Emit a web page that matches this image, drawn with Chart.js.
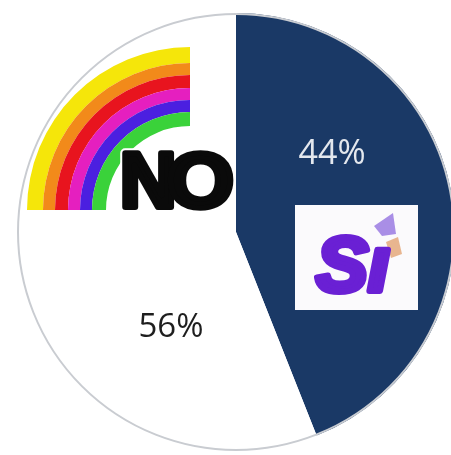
<!DOCTYPE html>
<html>
<head>
<meta charset="utf-8">
<script src="https://cdn.jsdelivr.net/npm/chart.js@4.4.0/dist/chart.umd.min.js"></script>
<style>
  html, body { margin: 0; padding: 0; background: #ffffff; }
  #wrap { width: 451px; height: 455px; position: relative; overflow: hidden; }
  .pre { position: absolute; left: -1000px; top: 0; }
</style>
</head>
<body>
<span class="pre" style="font: bold 20px 'Liberation Sans'">NO</span>
<span class="pre" style="font: italic bold 20px 'Liberation Sans'">Sí</span>
<span class="pre" style="font: 20px 'Open Sans'">44%</span>
<div id="wrap"><canvas id="c" width="470" height="455"></canvas></div>
<script>
// ---- data ----
const categories = ['Sí', 'NO'];
const values = [44, 56];
const valueLabels = ['44%', '56%'];
const sliceColors = ['#1a3966', '#ffffff'];
const rainbowColors = ['#f5e60a', '#f28a1a', '#e8141e', '#e51fbf', '#4b1fe0', '#3ad23a'];

const decoPlugin = {
  id: 'deco',
  afterDatasetsDraw(chart) {
    const arc = chart.getDatasetMeta(0).data[0];
    const cx = arc.x, cy = arc.y, R = arc.outerRadius;
    const X = dx => cx + dx, Y = dy => cy + dy;
    const ctx = chart.ctx;
    ctx.save();

    // circle outline
    ctx.beginPath();
    ctx.arc(cx, cy, R - 1, 0, Math.PI * 2);
    ctx.strokeStyle = '#c9ccd1';
    ctx.lineWidth = 2;
    ctx.stroke();

    // value labels
    ctx.textAlign = 'center';
    ctx.textBaseline = 'alphabetic';
    ctx.font = '34px "Open Sans", sans-serif';
    ctx.fillStyle = '#e4e8ee';
    ctx.fillText(valueLabels[0], X(96), Y(-68));
    ctx.font = '33px "Open Sans", sans-serif';
    ctx.fillStyle = '#1e1e1e';
    ctx.fillText(valueLabels[1], X(-65), Y(105));

    // rainbow of the NO logo
    const rcx = X(-46), rcy = Y(-22);
    const radii = [163, 147, 135, 122, 110, 98, 84];
    for (let i = 0; i < rainbowColors.length; i++) {
      ctx.beginPath();
      ctx.arc(rcx, rcy, radii[i], Math.PI, Math.PI * 1.5);
      ctx.arc(rcx, rcy, radii[i + 1], Math.PI * 1.5, Math.PI, true);
      ctx.closePath();
      ctx.fillStyle = rainbowColors[i];
      ctx.fill();
    }

    // NO text (heavy: white halo, then fill + same-colour stroke)
    ctx.lineJoin = 'round';
    ctx.textAlign = 'left';
    ctx.font = 'bold 78px "Liberation Sans", sans-serif';
    const nx = X(-116), by = Y(-25);
    const nw = ctx.measureText('N').width;
    const drawNO = (color, lw) => {
      ctx.fillStyle = color; ctx.strokeStyle = color; ctx.lineWidth = lw;
      ctx.fillText('N', nx, by);
      ctx.strokeText('N', nx, by);
      ctx.save();
      ctx.translate(nx + nw - 9, by);
      ctx.scale(1.1, 1);
      ctx.fillText('O', 0, 0);
      ctx.lineWidth = lw / 1.1;
      ctx.strokeText('O', 0, 0);
      ctx.restore();
    };
    drawNO('#ffffff', 10);
    drawNO('#0a0a0a', 6);

    // Sí logo box
    ctx.fillStyle = '#fbfafc';
    ctx.fillRect(X(59), Y(-27), 123, 105);
    // ballot decoration
    ctx.fillStyle = '#a98ee6';
    ctx.beginPath();
    ctx.moveTo(X(138), Y(-6)); ctx.lineTo(X(157), Y(-19)); ctx.lineTo(X(160), Y(2)); ctx.lineTo(X(146), Y(4));
    ctx.closePath(); ctx.fill();
    ctx.fillStyle = '#e8b58f';
    ctx.beginPath();
    ctx.moveTo(X(150), Y(10)); ctx.lineTo(X(162), Y(5)); ctx.lineTo(X(166), Y(22)); ctx.lineTo(X(155), Y(26));
    ctx.closePath(); ctx.fill();
    // Sí text
    ctx.fillStyle = '#6a20d4';
    ctx.strokeStyle = '#6a20d4';
    ctx.lineWidth = 6;
    ctx.font = 'italic bold 78px "Liberation Sans", sans-serif';
    const sText = categories[0].charAt(0) + 'ı';
    ctx.fillText(sText, X(80), Y(59));
    ctx.strokeText(sText, X(80), Y(59));

    ctx.restore();
  }
};

function build() {
  new Chart(document.getElementById('c'), {
    type: 'pie',
    data: {
      labels: categories,
      datasets: [{
        data: values,
        backgroundColor: sliceColors,
        borderWidth: 0
      }]
    },
    options: {
      responsive: false,
      animation: false,
      layout: { padding: { left: 17, right: 15, top: 13, bottom: 4 } },
      plugins: { legend: { display: false }, tooltip: { enabled: false } }
    },
    plugins: [decoPlugin]
  });
}

Promise.all([
  document.fonts.load('bold 78px "Liberation Sans"'),
  document.fonts.load('italic bold 78px "Liberation Sans"'),
  document.fonts.load('34px "Open Sans"')
]).then(build, build);
</script>
</body>
</html>
